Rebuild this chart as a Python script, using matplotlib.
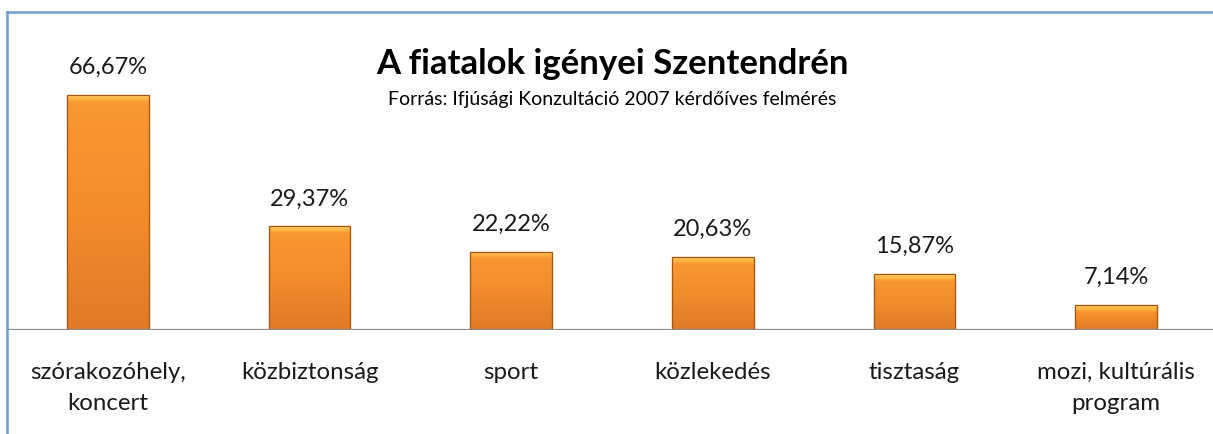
import numpy as np
import matplotlib.pyplot as plt
from matplotlib.colors import LinearSegmentedColormap
from matplotlib.lines import Line2D

kategoriak = ['szórakozóhely,\nkoncert', 'közbiztonság', 'sport', 'közlekedés',
              'tisztaság', 'mozi, kultúrális\nprogram']
ertekek = np.array([66.67, 29.37, 22.22, 20.63, 15.87, 7.14])
cimkek = ['66,67%', '29,37%', '22,22%', '20,63%', '15,87%', '7,14%']

cim = 'A fiatalok igényei Szentendrén'
alcim = 'Forrás: Ifjúsági Konzultáció 2007 kérdőíves felmérés'

plt.rcParams['font.family'] = ['Lato', 'DejaVu Sans']

fig = plt.figure(figsize=(12.13, 4.35), dpi=100)
# plot area runs a few px past the right edge in the original, so trim xlim instead
ax = fig.add_axes([7 / 1213, 104 / 435, 1206 / 1213, 319 / 435])
ax.set_frame_on(False)
xmax = len(ertekek) - 0.5 - 4 / 201.6

x = np.arange(len(ertekek))
bars = ax.bar(x, ertekek, width=0.405, color='#F7962E', edgecolor='#B8600F', linewidth=0.8, zorder=2)

# body gradient + bevel strip on top
test = LinearSegmentedColormap.from_list('test', ['#E07A28', '#F28C2C', '#F99A33'])
bevel = LinearSegmentedColormap.from_list('bevel', ['#F99A33', '#FFB845', '#FFD36E'])
g = np.linspace(0, 1, 256).reshape(-1, 1)
bevel_h = 1.9  # ~7 px
for b in bars:
    x0, y0 = b.get_x(), b.get_y()
    w, h = b.get_width(), b.get_height()
    im = ax.imshow(g, cmap=test, extent=[x0, x0 + w, y0, y0 + h], origin='lower',
                   aspect='auto', zorder=3, vmin=0, vmax=1)
    im.set_clip_path(b)
    im2 = ax.imshow(g, cmap=bevel, extent=[x0, x0 + w, y0 + h - bevel_h, y0 + h], origin='lower',
                    aspect='auto', zorder=4, vmin=0, vmax=1)
    im2.set_clip_path(b)
    ax.bar(b.get_x() + w / 2, h, width=w, fill=False, edgecolor='#A5560E', linewidth=0.9, zorder=5)

ax.set_xlim(-0.5, xmax)
ax.set_ylim(0, 90.5)

for b, c in zip(bars, cimkek):
    ax.annotate(c, (b.get_x() + b.get_width() / 2, b.get_height()), xytext=(0, 13),
                textcoords='offset points', ha='center', va='bottom', fontsize=17, color='#1a1a1a')

ax.axhline(0, color='#8c8c8c', lw=1.6, zorder=6)
ax.set_xticks(x)
ax.set_xticklabels(kategoriak, fontsize=17.3, color='#1a1a1a', linespacing=1.6)
ax.tick_params(axis='x', length=0, pad=22)
ax.set_yticks([])

fig.text(0.505, 1 - 64 / 435, cim, ha='center', va='center', fontsize=25, fontweight='bold')
fig.text(0.505, 1 - 100 / 435, alcim, ha='center', va='center', fontsize=14)

# chart border (top and left visible)
fig.add_artist(Line2D([6.5 / 1213, 6.5 / 1213], [0, 1 - 12.5 / 435], color='#6E9BD0', lw=1.8, transform=fig.transFigure))
fig.add_artist(Line2D([6.5 / 1213, 1], [1 - 12.5 / 435, 1 - 12.5 / 435], color='#6E9BD0', lw=1.8, transform=fig.transFigure))

fig.savefig('out.png', dpi=100)
